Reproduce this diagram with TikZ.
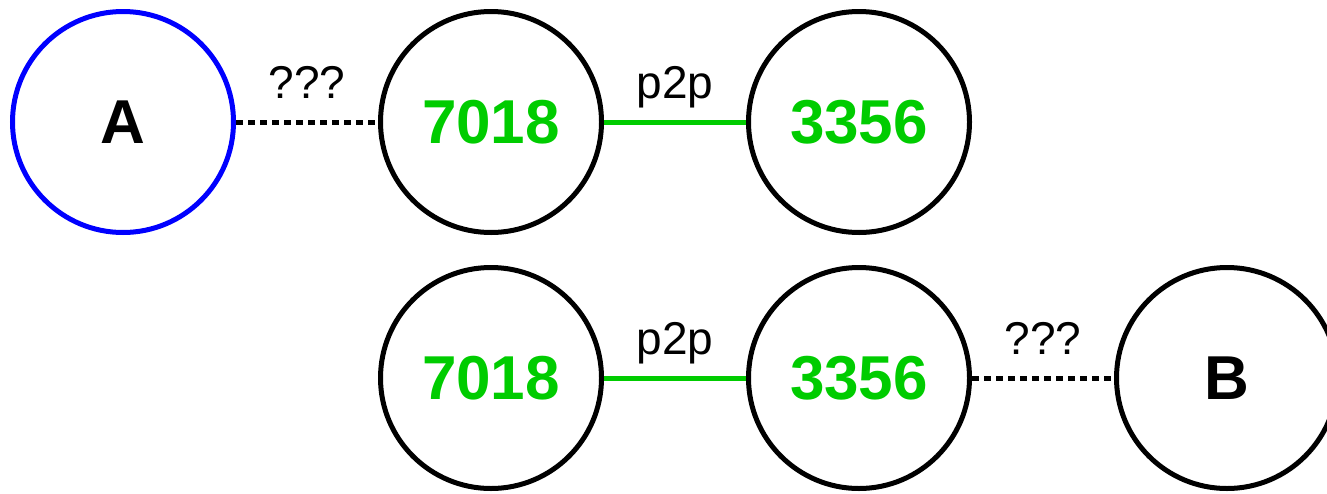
\documentclass[tikz,border=0pt]{standalone}
\usepackage{fontspec}
\setmainfont{Liberation Sans}
\usetikzlibrary{positioning}
\definecolor{asgreen}{HTML}{00CC00}
\tikzstyle{as}=[circle, draw=black, line width=5pt, minimum size=221pt, inner sep=0pt, font=\fontsize{62}{62}\selectfont\bfseries]
\tikzstyle{peer}=[draw=asgreen, line width=5pt]
\tikzstyle{unknown}=[draw=black, line width=5pt, dash pattern=on 7pt off 5pt]
\tikzstyle{lbl}=[anchor=base, yshift=24pt, inner sep=0pt, font=\fontsize{46}{46}\selectfont]

\begin{document}
\begin{tikzpicture}[x=1pt, y=-1pt, node distance=142pt]
    \useasboundingbox (0,0) rectangle (1327,493);

    % first row
    \node[as, draw=blue] (A) at (123,122) {A};
    \node[as, text=asgreen, right=of A] (t7018) {7018};
    \node[as, text=asgreen, right=of t7018] (t3356) {3356};

    % second row
    \node[as, text=asgreen, below=30pt of t7018] (b7018) {7018};
    \node[as, text=asgreen, right=of b7018] (b3356) {3356};
    \node[as, right=of b3356] (B) {B};

    % Connect the nodes
    \path
        (A) edge [unknown] node[lbl] {???} (t7018)
        (t7018) edge [peer] node[lbl] {p2p} (t3356)
        (b7018) edge [peer] node[lbl] {p2p} (b3356)
        (b3356) edge [unknown] node[lbl] {???} (B)
        ;
\end{tikzpicture}
\end{document}
